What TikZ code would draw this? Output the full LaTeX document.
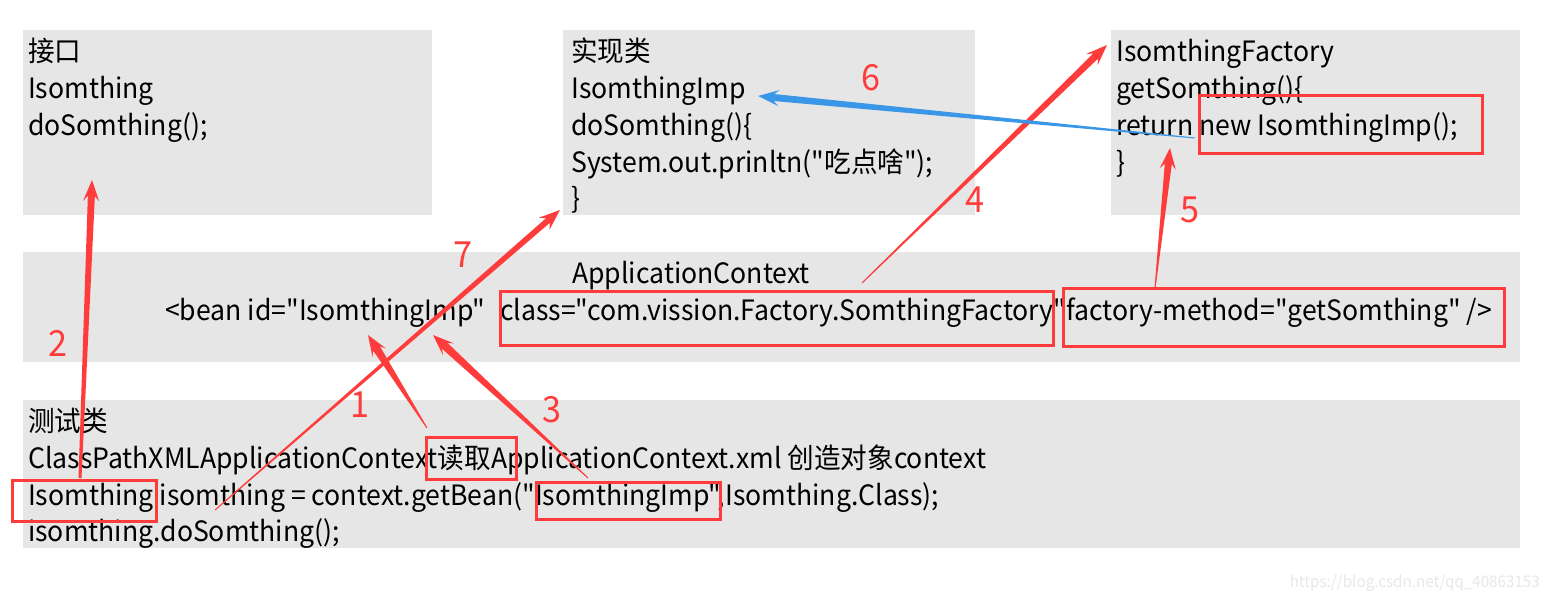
\documentclass[tikz,border=0pt]{standalone}
\usepackage{fontspec}
\setmainfont{Noto Sans CJK SC}[Ligatures=TeXOff,FakeStretch=0.95]
\usetikzlibrary{calc}
\definecolor{boxgray}{RGB}{230,230,230}
\definecolor{mred}{RGB}{255,60,60}
\definecolor{mblue}{RGB}{58,150,230}
\definecolor{wm}{RGB}{232,232,232}
\newcommand\tarr[6]{%
  \coordinate (tS) at ($(#3)!16pt!(#2)$);
  \coordinate (tH) at ($(#3)!21pt!(#2)$);
  \fill[#1] ($(#2)!#4!90:(#3)$) -- ($(tS)!#5!90:(#3)$) -- ($(tH)!#6!90:(#3)$) -- (#3)
    -- ($(tH)!#6!-90:(#3)$) -- ($(tS)!#5!-90:(#3)$) -- ($(#2)!#4!-90:(#3)$) -- cycle;
}
\begin{document}
\begin{tikzpicture}[x=1pt,y=-1pt,
  graybox/.style={fill=boxgray,draw=none,anchor=north west,inner sep=0pt},
  txt/.style={anchor=base west,inner sep=0pt,font=\fontsize{28}{28}\selectfont,text=black},
  redbox/.style={draw=mred,line width=3pt},
  numlbl/.style={inner sep=0pt,font=\fontsize{36}{36}\selectfont,text=mred}]
\useasboundingbox[fill=white] (0,0) rectangle (1549,602);
% boxes
\node[graybox,minimum width=409,minimum height=185] (bif) at (23,30) {};
\node[graybox,minimum width=412,minimum height=185] (bimp) at (563,30) {};
\node[graybox,minimum width=409,minimum height=185] (bfac) at (1111,30) {};
\node[graybox,minimum width=1497,minimum height=110] (bctx) at (23,252) {};
\node[graybox,minimum width=1497,minimum height=148] (btest) at (23,400) {};
% box 1
\node[txt] (i1) at (28,61) {接口};
\node[txt] (i2) at (28,98) {Isomthing};
\node[txt] (i3) at (28,135) {doSomthing();};
% box 2
\node[txt] (m1) at (571,61) {实现类};
\node[txt] (m2) at (571,98) {IsomthingImp};
\node[txt] (m3) at (571,135) {doSomthing()\{};
\node[txt] (m4) at (571,172) {System.out.prinltn("吃点啥");};
\node[txt] (m5) at (571,208) {\}};
% box 3
\node[txt] (f1) at (1116,61) {IsomthingFactory};
\node[txt] (f2) at (1116,98) {getSomthing()\{};
\node[txt] (f3) at (1116,135) {return new IsomthingImp();};
\node[txt] (f4) at (1116,172) {\}};
% box 4
\node[txt] (c1) at (572,283) {ApplicationContext};
\node[txt] (c2) at (165,320) {<bean id="IsomthingImp"};
\node[txt] (c3) at (500,320) {class="com.vission.Factory.SomthingFactory"};
\node[txt] (c4) at (1066,320) {factory-method="getSomthing" />};
% box 5
\node[txt] (t1) at (28,431) {测试类};
\node[txt] (t2) at (28,468) {ClassPathXMLApplicationContext读取ApplicationContext.xml 创造对象context};
\node[txt] (t3) at (28,505) {Isomthing isomthing = context.getBean("IsomthingImp",Isomthing.Class);};
\node[txt] (t4) at (28,541) {isomthing.doSomthing();};
% red boxes
\draw[redbox] (1199,95) rectangle (1482,153);
\draw[redbox] (500,291) rectangle (1053,345);
\draw[redbox] (1063,288) rectangle (1504,346);
\draw[redbox] (426,437) rectangle (516,479);
\draw[redbox] (12,480) rectangle (156,521);
\draw[redbox] (536,482) rectangle (720,519);
% arrow endpoints
\coordinate (a2s) at (80,478);   \coordinate (a2e) at (92,180);
\coordinate (a1s) at (427,428);  \coordinate (a1e) at (368,335);
\coordinate (a3s) at (588,478);  \coordinate (a3e) at (433,335);
\coordinate (a7s) at (215,510);  \coordinate (a7e) at (560,210);
\coordinate (a4s) at (862,283);  \coordinate (a4e) at (1107,45);
\coordinate (a5s) at (1155,288); \coordinate (a5e) at (1170,148);
\coordinate (a6s) at (1195,138); \coordinate (a6e) at (758,96);
\tarr{mred}{a2s}{a2e}{1.5pt}{3.5pt}{8pt}
\tarr{mred}{a1s}{a1e}{0.5pt}{4pt}{8pt}
\tarr{mred}{a3s}{a3e}{0.5pt}{4pt}{8pt}
\tarr{mred}{a7s}{a7e}{0.5pt}{3pt}{8pt}
\tarr{mred}{a4s}{a4e}{0.5pt}{3.5pt}{8pt}
\tarr{mred}{a5s}{a5e}{0.5pt}{3.5pt}{8pt}
\tarr{mblue}{a6s}{a6e}{0.5pt}{3.5pt}{8pt}
% labels
\node[numlbl] (n6) at (871,78) {6};
\node[numlbl] (n4) at (975,200) {4};
\node[numlbl] (n5) at (1190,210) {5};
\node[numlbl] (n7) at (463,255) {7};
\node[numlbl] (n2) at (58,343) {2};
\node[numlbl] (n1) at (360,405) {1};
\node[numlbl] (n3) at (552,410) {3};
% watermark
\node[anchor=east,inner sep=0pt,font=\fontsize{16}{16}\selectfont,text=wm] (wmk) at (1540,583) {https://blog.csdn.net/qq\_40863153};
\end{tikzpicture}
\end{document}
